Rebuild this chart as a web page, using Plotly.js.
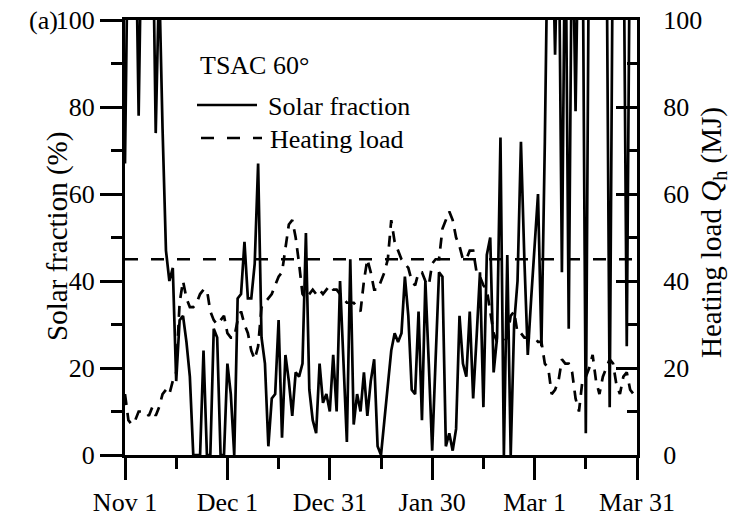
<!DOCTYPE html>
<html>
<head>
<meta charset="utf-8">
<script src="https://cdn.plot.ly/plotly-3.0.1.min.js"></script>
<style>
  html, body { margin: 0; padding: 0; background: #fff; }
  #chart { width: 747px; height: 523px; }
</style>
</head>
<body>
<div id="chart"></div>
<script>
// Daily values, Nov 1 (day 0) to Mar 31 (day 150)
const solarFraction = [
  67,130,130,130,78,130,130,130,130,74,
  110,75,47,40,43,17,31,32,26,18,
  0,0,0,24,0,0,29,27,0,0,
  21,14,0,36,37,49,36,36,44,67,
  27,21,2,13,14,31,4,23,17,9,
  19,18,21,51,15,8,5,21,12,14,
  10,23,10,40,22,3,45,7,14,10,
  19,9,17,22,2,0,8,16,24,28,
  26,28,41,32,15,14,33,8,40,21,
  1,22,42,41,2,5,1,6,32,21,
  18,33,13,27,42,11,46,50,19,27,
  73,0,46,0,30,40,72,45,23,36,
  48,60,25,72,130,130,92,130,42,130,
  29,130,79,130,130,5,130,130,130,130,
  130,130,11,130,130,130,130,25,130,130,
  130
];
const heatingLoad = [
  14,8,7,8,10,10,10,9,11,9,
  11,14,15,14,17,19,35,40,36,34,
  34,35,37,38,38,33,31,30,31,32,
  28,27,27,31,33,30,28,24,22,25,
  34,35,36,37,39,41,42,47,53,54,
  50,44,37,36,37,38,37,38,37,38,
  39,38,38,37,36,35,35,35,34,33,
  40,45,42,38,38,40,42,45,54,49,
  47,45,44,43,40,39,42,42,40,39,
  44,45,45,52,54,56,54,50,48,45,
  45,47,47,42,41,39,38,33,28,26,
  26,26,27,32,33,28,28,27,27,27,
  27,26,26,21,20,14,15,17,22,21,
  21,19,13,10,17,18,20,23,17,14,
  18,20,22,21,16,14,18,19,15,14,
  13
];
const referenceLoad = 45;
const tickDays = [0, 30, 60, 90, 120, 150];
const tickLabels = ['Nov 1', 'Dec 1', 'Dec 31', 'Jan 30', 'Mar 1', 'Mar 31'];
const legendTitle = 'TSAC 60°';
const seriesNames = ['Solar fraction', 'Heating load'];
const yTitle = 'Solar fraction (%)';
const y2Title = 'Heating load <i>Q</i><sub>h</sub> (MJ)';

const days = solarFraction.map((_, i) => i);
const FONT = 'Liberation Serif';
const W = 747, H = 523;
const M = {l: 125, r: 110, t: 20, b: 68};
const pw = W - M.l - M.r, ph = H - M.t - M.b;
const px = x => (x - M.l) / pw;       // pixel -> paper x
const py = y => (H - M.b - y) / ph;   // pixel -> paper y

const traces = [
  {
    x: [days[0], days[days.length - 1]], y: [referenceLoad, referenceLoad],
    yaxis: 'y2', mode: 'lines', showlegend: false, hoverinfo: 'skip',
    line: {color: '#000', width: 2.7, dash: '13px,13px'}
  },
  {
    x: days, y: heatingLoad, yaxis: 'y2', name: seriesNames[1],
    mode: 'lines', showlegend: false,
    line: {color: '#000', width: 2.7, dash: '11px,8px'}
  },
  {
    x: days, y: solarFraction, name: seriesNames[0],
    mode: 'lines', showlegend: false,
    line: {color: '#000', width: 2.7}
  }
];

const tickFont = {family: FONT, size: 26, color: '#000'};
const textFont = {family: FONT, size: 26, color: '#000'};
const titleFont = {family: FONT, size: 29, color: '#000'};
const layout = {
  width: W, height: H,
  margin: M,
  paper_bgcolor: '#fff', plot_bgcolor: '#fff',
  showlegend: false,
  font: {family: FONT, size: 26, color: '#000'},
  xaxis: {
    range: [0, 150], tickmode: 'array', tickvals: tickDays, ticktext: tickLabels,
    ticks: 'outside', ticklen: 22, tickwidth: 3, tickcolor: '#000',
    minor: {tickmode: 'linear', tick0: 0, dtick: 15, ticks: 'outside', ticklen: 11, tickwidth: 3, tickcolor: '#000', showgrid: false},
    showline: true, linewidth: 3, linecolor: '#000', mirror: true,
    showgrid: false, zeroline: false, tickfont: tickFont
  },
  yaxis: {
    range: [0, 100], dtick: 20, ticks: 'outside', ticklen: 22, tickwidth: 3, tickcolor: '#000',
    minor: {dtick: 10, ticks: 'outside', ticklen: 11, tickwidth: 3, tickcolor: '#000', showgrid: false},
    showline: true, linewidth: 3, linecolor: '#000',
    showgrid: false, zeroline: false, tickfont: tickFont
  },
  yaxis2: {
    overlaying: 'y', side: 'right',
    range: [0, 100], dtick: 20, ticks: 'inside', ticklen: 21, tickwidth: 3, tickcolor: '#000',
    minor: {dtick: 10, ticks: 'inside', ticklen: 10, tickwidth: 3, tickcolor: '#000', showgrid: false},
    showline: true, linewidth: 3, linecolor: '#000',
    showgrid: false, zeroline: false, tickfont: tickFont, ticklabelstandoff: 18
  },
  annotations: [
    {text: yTitle, textangle: -90, xref: 'paper', yref: 'paper', x: px(57), y: py(237), xanchor: 'center', yanchor: 'middle', showarrow: false, font: titleFont},
    {text: y2Title, textangle: -90, xref: 'paper', yref: 'paper', x: px(713), y: py(233), xanchor: 'center', yanchor: 'middle', showarrow: false, font: titleFont},
    {text: '(a)', xref: 'paper', yref: 'paper', x: px(60), y: py(20), xanchor: 'right', yanchor: 'middle', showarrow: false, font: textFont},
    {text: legendTitle, xref: 'paper', yref: 'paper', x: px(198), y: py(65), xanchor: 'left', yanchor: 'middle', showarrow: false, font: textFont},
    {text: seriesNames[0], xref: 'paper', yref: 'paper', x: px(266), y: py(106), xanchor: 'left', yanchor: 'middle', showarrow: false, font: textFont},
    {text: seriesNames[1], xref: 'paper', yref: 'paper', x: px(268), y: py(139), xanchor: 'left', yanchor: 'middle', showarrow: false, font: textFont}
  ],
  shapes: [
    {type: 'line', xref: 'paper', yref: 'paper', x0: px(197), x1: px(257), y0: py(105), y1: py(105), line: {color: '#000', width: 2.7}},
    {type: 'line', xref: 'paper', yref: 'paper', x0: px(201), x1: px(262), y0: py(138), y1: py(138), line: {color: '#000', width: 2.7, dash: '13px,13px'}}
  ]
};

Plotly.newPlot('chart', traces, layout, {displayModeBar: false, staticPlot: true});
</script>
</body>
</html>
